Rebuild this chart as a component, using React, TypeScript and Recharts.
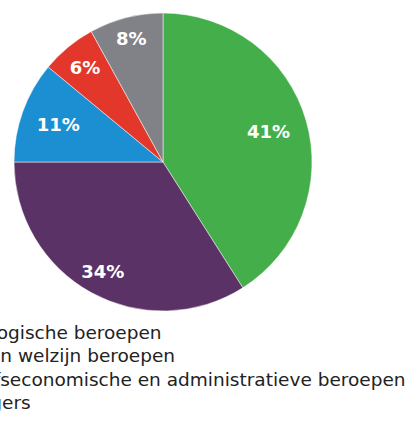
import { Cell, Legend, Pie, PieChart } from 'recharts';

const categories = [
  'Pedagogische beroepen',
  'Zorg en welzijn beroepen',
  'Bedrijfseconomische en administratieve beroepen',
  'Managers',
  'Overig',
];
const shares = [41, 34, 11, 6, 8];
const colors = ['#44ae4b', '#5b3265', '#1b8fd1', '#e2372a', '#808287'];
const legendCount = 4;

const data = categories.map((name, i) => ({ name, value: shares[i] }));

const FONT = '"DejaVu Sans", Verdana, sans-serif';
const RADIAN = Math.PI / 180;

type LabelProps = {
  cx: number;
  cy: number;
  midAngle: number;
  outerRadius: number;
  value: number;
};

const renderLabel = ({ cx, cy, midAngle, outerRadius, value }: LabelProps) => {
  const sin = Math.sin(midAngle * RADIAN);
  const cos = Math.cos(midAngle * RADIAN);
  const r = outerRadius * (0.69 + 0.17 * Math.abs(sin));
  return (
    <text
      x={cx + r * cos}
      y={cy - r * sin}
      fill="#fff"
      textAnchor="middle"
      dominantBaseline="central"
      fontFamily={FONT}
      fontWeight="bold"
      fontSize={18}
    >
      {`${value}%`}
    </text>
  );
};

// legend keeps the data order (recharts sorts payload alphabetically otherwise)
const LegendList = () => (
  <ul style={{ listStyle: 'none', margin: 0, padding: 0 }}>
    {categories.slice(0, legendCount).map((name, i) => (
      <li
        key={name}
        style={{
          display: 'flex',
          alignItems: 'center',
          height: 23.3,
          fontFamily: FONT,
          fontSize: 18.5,
          color: '#222',
          whiteSpace: 'nowrap',
        }}
      >
        <span
          style={{
            display: 'inline-block',
            width: 12,
            height: 12,
            marginRight: 8,
            background: colors[i],
          }}
        />
        {name}
      </li>
    ))}
  </ul>
);

export default function App() {
  return (
    <div style={{ position: 'absolute', left: 0, top: 0, width: 407, height: 436, overflow: 'hidden' }}>
      <PieChart width={407} height={436} margin={{ top: 0, right: 0, bottom: 0, left: 0 }}>
        <Pie
          data={data}
          dataKey="value"
          nameKey="name"
          cx={163}
          cy={162}
          outerRadius={149}
          startAngle={90}
          endAngle={-270}
          stroke="#fff"
          strokeWidth={0.5}
          labelLine={false}
          label={renderLabel}
          isAnimationActive={false}
        >
          {data.map((d, i) => (
            <Cell key={d.name} fill={colors[i]} />
          ))}
        </Pie>
        <Legend
          content={<LegendList />}
          wrapperStyle={{ position: 'absolute', left: -80, top: 321, width: 620 }}
        />
      </PieChart>
    </div>
  );
}
